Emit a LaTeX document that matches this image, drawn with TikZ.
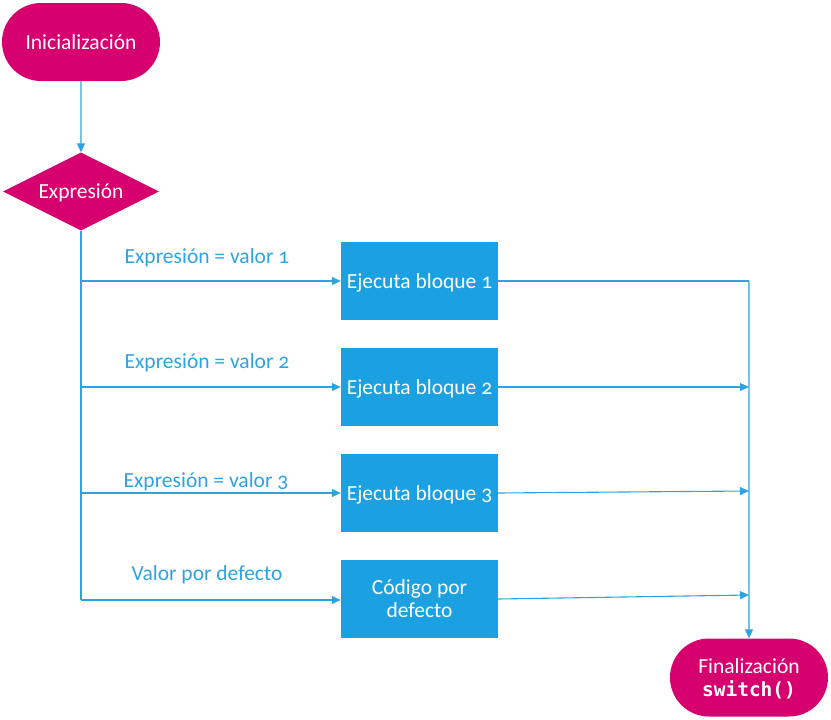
\documentclass[tikz,border=0pt]{standalone}
\usepackage{fontspec}
\setmainfont[Numbers=OldStyle]{Carlito}
\setmonofont{DejaVu Sans Mono}
\usetikzlibrary{shapes.geometric,shapes.misc,arrows.meta}
\definecolor{mag}{HTML}{D6006F}
\definecolor{bbox}{HTML}{1BA1E2}
\definecolor{lin}{HTML}{2FA3DF}
\tikzset{
  txt/.style={font=\fontsize{21.5}{25}\selectfont, text depth=0pt},
  term/.style={txt, rounded rectangle, fill=mag, text=white, minimum width=158pt, minimum height=78pt, inner sep=0pt, align=center},
  dec/.style={txt, diamond, fill=mag, text=white, aspect=2, minimum width=156pt, minimum height=78pt, inner sep=0pt},
  blk/.style={txt, rectangle, fill=bbox, text=white, minimum width=157pt, minimum height=78pt, inner sep=0pt, align=center},
  lbl/.style={txt, text=lin, inner sep=0pt},
  con/.style={draw=lin, line width=1.1pt, -{Triangle[length=9pt,width=8pt]}},
  plain/.style={draw=lin, line width=1.1pt},
}
\begin{document}
\begin{tikzpicture}[x=1pt,y=-1pt]
\useasboundingbox (0,0) rectangle (831,720);
\node[term] (ini) at (81,42) {Inicialización};
\node[dec] (exp) at (81,191.5) {Expresión};
\node[blk] (b1) at (419.5,281) {Ejecuta bloque 1};
\node[blk] (b2) at (419.5,387) {Ejecuta bloque 2};
\node[blk] (b3) at (419.5,493) {Ejecuta bloque 3};
\node[blk] (b4) at (419.5,599) {Código por\\[-2pt]defecto};
\node[term] (fin) at (749,677.5) {Finalización\\[-2pt]{\ttfamily\bfseries\fontsize{19.5}{21}\selectfont switch()}};
\node[lbl] (l1) at (207,256) {Expresión = valor 1};
\node[lbl] (l2) at (207,361) {Expresión = valor 2};
\node[lbl] (l3) at (206,480) {Expresión = valor 3};
\node[lbl] (l4) at (207,573) {Valor por defecto};
\coordinate (j1) at (81,281);
\coordinate (j2) at (81,387);
\coordinate (j3) at (81,493);
\coordinate (j4) at (81,600);
\coordinate (r1) at (749,281);
\coordinate (r2) at (749,387);
\coordinate (r3) at (749,491);
\coordinate (r4) at (749,595);
\draw[con] (ini) -- (exp);
\draw[draw=lin, line width=2pt] (exp.south) -- (j4);
\draw[con] (j1) -- (b1);
\draw[con] (j2) -- (b2);
\draw[con] (j3) -- (b3);
\draw[con] (j4) -- (b4.west |- j4);
\draw[plain] (b1) -- (r1);
\draw[con] (r1) -- (fin);
\draw[con] (b2) -- (r2);
\draw[con] (b3.east) -- (r3);
\draw[con] (b4.east) -- (r4);
\end{tikzpicture}
\end{document}
